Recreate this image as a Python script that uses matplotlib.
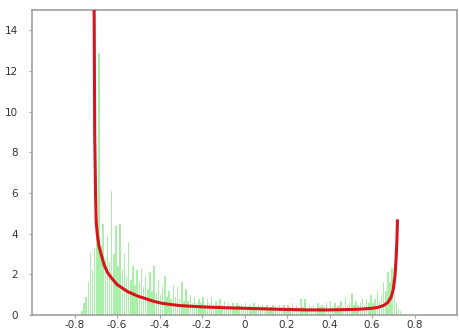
import numpy as np
import matplotlib
matplotlib.use("Agg")
import matplotlib.pyplot as plt

# histogram: bins of width 0.01 starting at -0.77
bin_start = -0.77
bin_width = 0.01
counts = [
    0.2, 0.6, 0.9, 1.6, 3.1, 2.2, 3.3, 4.0, 12.9, 3.4,
    4.5, 2.8, 3.9, 2.6, 6.1, 3.0, 4.4, 2.4, 4.5, 2.2,
    3.0, 1.9, 3.6, 1.7, 2.4, 1.5, 2.2, 1.6, 2.3, 1.4,
    1.9, 1.3, 2.1, 1.2, 2.4, 1.1, 1.7, 1.0, 1.4, 1.9,
    0.9, 1.2, 0.8, 1.5, 0.9, 1.4, 0.8, 1.6, 0.7, 1.3,
    0.7, 1.0, 0.6, 0.9, 0.6, 0.8, 0.6, 0.9, 0.5, 0.8,
    0.6, 0.9, 0.5, 0.7, 0.5, 0.8, 0.5, 0.7, 0.4, 0.6,
    0.5, 0.6, 0.4, 0.6, 0.5, 0.5, 0.4, 0.6, 0.4, 0.5,
    0.4, 0.6, 0.4, 0.5, 0.3, 0.5, 0.4, 0.5, 0.3, 0.4,
    0.5, 0.4, 0.3, 0.5, 0.4, 0.5, 0.3, 0.5, 0.4, 0.6,
    0.3, 0.5, 0.4, 0.8, 0.4, 0.8, 0.3, 0.5, 0.4, 0.5,
    0.3, 0.6, 0.4, 0.5, 0.4, 0.6, 0.3, 0.7, 0.4, 0.6,
    0.4, 0.5, 0.7, 0.4, 0.9, 0.5, 0.6, 1.1, 0.5, 0.7,
    0.5, 0.6, 0.8, 0.5, 0.8, 0.6, 1.0, 0.6, 0.8, 1.2,
    0.7, 1.0, 1.6, 1.2, 2.1, 1.6, 2.3, 1.1, 0.6, 0.3,
    0.2,
]

# theoretical density curve
curve_x = [-0.708, -0.705, -0.701, -0.698, -0.692, -0.684, -0.675, -0.660,
           -0.645, -0.628, -0.600, -0.550, -0.500, -0.470, -0.430, -0.390,
           -0.350, -0.300, -0.250, -0.200, -0.100, 0.000, 0.100, 0.200,
           0.300, 0.400, 0.500, 0.550, 0.600, 0.630, 0.655, 0.675,
           0.690, 0.700, 0.708, 0.713, 0.717, 0.720]
curve_y = [16.0, 9.0, 6.0, 4.6, 3.9, 3.35, 3.0, 2.45,
           2.1, 1.85, 1.5, 1.15, 0.92, 0.82, 0.68, 0.58,
           0.52, 0.46, 0.43, 0.40, 0.36, 0.33, 0.30, 0.27,
           0.25, 0.25, 0.27, 0.29, 0.33, 0.38, 0.47, 0.62,
           0.88, 1.25, 1.9, 2.7, 3.6, 4.7]

xticks = [-0.8, -0.6, -0.4, -0.2, 0, 0.2, 0.4, 0.6, 0.8]
xtick_labels = ["-0.8", "-0.6", "-0.4", "-0.2", "0", "0.2", "0.4", "0.6", "0.8"]
yticks = [0, 2, 4, 6, 8, 10, 12, 14]

fig = plt.figure(figsize=(4.59, 3.31), dpi=100)
ax = fig.add_axes([32 / 459, 16 / 331, 425 / 459, 305 / 331])

centers = bin_start + bin_width * (np.arange(len(counts)) + 0.5)
ax.bar(centers, counts, width=bin_width * 0.75, color="#a8f0a8",
       edgecolor="none", zorder=1)
ax.plot(curve_x, curve_y, color="#d8141c", lw=2.2, zorder=3,
        solid_capstyle="butt")

ax.set_xlim(-1, 1)
ax.set_ylim(0, 15)
ax.set_xticks(xticks)
ax.set_xticklabels(xtick_labels)
ax.set_yticks(yticks)
for s in ax.spines.values():
    s.set_color("#a0a0a0")
    s.set_linewidth(1.2)
ax.tick_params(axis="both", labelsize=7.5, colors="#333333", length=2,
               width=0.8, color="#a0a0a0")
ax.tick_params(axis="x", pad=1.5)
ax.tick_params(axis="y", pad=8)

fig.savefig("out.png", dpi=100, facecolor="white")
